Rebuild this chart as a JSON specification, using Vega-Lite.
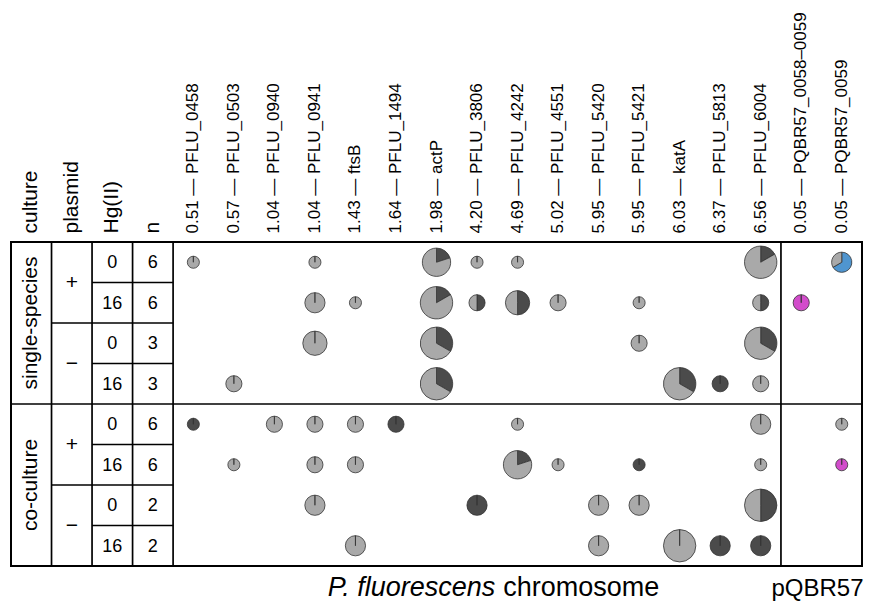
{
  "$schema": "https://vega.github.io/schema/vega-lite/v6.json",
  "width": 851,
  "height": 324,
  "autosize": {"type": "none"},
  "padding": {"left": 11, "top": 242, "right": 15, "bottom": 39},
  "background": "white",
  "config": {"font": "Liberation Sans", "view": {"stroke": "#000", "strokeWidth": 2}},
  "datasets": {
    "vlines": [{"col": "plasmid"}, {"col": "Hg(II)"}, {"col": "n"}, {"col": "0.51 — PFLU_0458"}, {"col": "0.05 — PQBR57_0058–0059"}],
    "hlines": [
      {"row": "cc+0", "c0": "culture", "c1": "0.05 — PQBR57_0059"},
      {"row": "ss-0", "c0": "plasmid", "c1": "n"},
      {"row": "cc-0", "c0": "plasmid", "c1": "n"},
      {"row": "ss+16", "c0": "Hg(II)", "c1": "n"},
      {"row": "ss-16", "c0": "Hg(II)", "c1": "n"},
      {"row": "cc+16", "c0": "Hg(II)", "c1": "n"},
      {"row": "cc-16", "c0": "Hg(II)", "c1": "n"}
    ],
    "cells": [
      {"row": "ss+0", "col": "Hg(II)", "label": "0"}, {"row": "ss+16", "col": "Hg(II)", "label": "16"},
      {"row": "ss-0", "col": "Hg(II)", "label": "0"}, {"row": "ss-16", "col": "Hg(II)", "label": "16"},
      {"row": "cc+0", "col": "Hg(II)", "label": "0"}, {"row": "cc+16", "col": "Hg(II)", "label": "16"},
      {"row": "cc-0", "col": "Hg(II)", "label": "0"}, {"row": "cc-16", "col": "Hg(II)", "label": "16"},
      {"row": "ss+0", "col": "n", "label": "6"}, {"row": "ss+16", "col": "n", "label": "6"},
      {"row": "ss-0", "col": "n", "label": "3"}, {"row": "ss-16", "col": "n", "label": "3"},
      {"row": "cc+0", "col": "n", "label": "6"}, {"row": "cc+16", "col": "n", "label": "6"},
      {"row": "cc-0", "col": "n", "label": "2"}, {"row": "cc-16", "col": "n", "label": "2"}
    ],
    "plasmid": [
      {"row": "ss+0", "col": "plasmid", "label": "+"}, {"row": "ss-0", "col": "plasmid", "label": "−"},
      {"row": "cc+0", "col": "plasmid", "label": "+"}, {"row": "cc-0", "col": "plasmid", "label": "−"}
    ],
    "culture": [
      {"row": "ss+16", "col": "culture", "label": "single-species"},
      {"row": "cc+16", "col": "culture", "label": "co-culture"}
    ],
    "pies": [
      {"row": "ss+0", "gene": "0.51 — PFLU_0458", "p": 0.1667, "type": "gray", "t0": 0, "t1": 1},
      {"row": "ss+0", "gene": "1.04 — PFLU_0941", "p": 0.1667, "type": "gray", "t0": 0, "t1": 1},
      {"row": "ss+0", "gene": "1.98 — actP", "p": 0.8333, "type": "dark", "t0": 0, "t1": 0.2},
      {"row": "ss+0", "gene": "1.98 — actP", "p": 0.8333, "type": "gray", "t0": 0.2, "t1": 1},
      {"row": "ss+0", "gene": "4.20 — PFLU_3806", "p": 0.1667, "type": "gray", "t0": 0, "t1": 1},
      {"row": "ss+0", "gene": "4.69 — PFLU_4242", "p": 0.1667, "type": "gray", "t0": 0, "t1": 1},
      {"row": "ss+0", "gene": "6.56 — PFLU_6004", "p": 1, "type": "dark", "t0": 0, "t1": 0.1667},
      {"row": "ss+0", "gene": "6.56 — PFLU_6004", "p": 1, "type": "gray", "t0": 0.1667, "t1": 1},
      {"row": "ss+0", "gene": "0.05 — PQBR57_0059", "p": 0.5, "type": "blue", "t0": 0, "t1": 0.6667},
      {"row": "ss+0", "gene": "0.05 — PQBR57_0059", "p": 0.5, "type": "gray", "t0": 0.6667, "t1": 1},

      {"row": "ss+16", "gene": "1.04 — PFLU_0941", "p": 0.5, "type": "gray", "t0": 0, "t1": 1},
      {"row": "ss+16", "gene": "1.43 — ftsB", "p": 0.1667, "type": "gray", "t0": 0, "t1": 1},
      {"row": "ss+16", "gene": "1.98 — actP", "p": 1, "type": "dark", "t0": 0, "t1": 0.1667},
      {"row": "ss+16", "gene": "1.98 — actP", "p": 1, "type": "gray", "t0": 0.1667, "t1": 1},
      {"row": "ss+16", "gene": "4.20 — PFLU_3806", "p": 0.3333, "type": "dark", "t0": 0, "t1": 0.5},
      {"row": "ss+16", "gene": "4.20 — PFLU_3806", "p": 0.3333, "type": "gray", "t0": 0.5, "t1": 1},
      {"row": "ss+16", "gene": "4.69 — PFLU_4242", "p": 0.6667, "type": "dark", "t0": 0, "t1": 0.5},
      {"row": "ss+16", "gene": "4.69 — PFLU_4242", "p": 0.6667, "type": "gray", "t0": 0.5, "t1": 1},
      {"row": "ss+16", "gene": "5.02 — PFLU_4551", "p": 0.3333, "type": "gray", "t0": 0, "t1": 1},
      {"row": "ss+16", "gene": "5.95 — PFLU_5421", "p": 0.1667, "type": "gray", "t0": 0, "t1": 1},
      {"row": "ss+16", "gene": "6.56 — PFLU_6004", "p": 0.3333, "type": "dark", "t0": 0, "t1": 0.5},
      {"row": "ss+16", "gene": "6.56 — PFLU_6004", "p": 0.3333, "type": "gray", "t0": 0.5, "t1": 1},
      {"row": "ss+16", "gene": "0.05 — PQBR57_0058–0059", "p": 0.3333, "type": "magenta", "t0": 0, "t1": 1},

      {"row": "ss-0", "gene": "1.04 — PFLU_0941", "p": 0.6667, "type": "gray", "t0": 0, "t1": 1},
      {"row": "ss-0", "gene": "1.98 — actP", "p": 1, "type": "dark", "t0": 0, "t1": 0.3333},
      {"row": "ss-0", "gene": "1.98 — actP", "p": 1, "type": "gray", "t0": 0.3333, "t1": 1},
      {"row": "ss-0", "gene": "5.95 — PFLU_5421", "p": 0.3333, "type": "gray", "t0": 0, "t1": 1},
      {"row": "ss-0", "gene": "6.56 — PFLU_6004", "p": 1, "type": "dark", "t0": 0, "t1": 0.3333},
      {"row": "ss-0", "gene": "6.56 — PFLU_6004", "p": 1, "type": "gray", "t0": 0.3333, "t1": 1},

      {"row": "ss-16", "gene": "0.57 — PFLU_0503", "p": 0.3333, "type": "gray", "t0": 0, "t1": 1},
      {"row": "ss-16", "gene": "1.98 — actP", "p": 1, "type": "dark", "t0": 0, "t1": 0.3333},
      {"row": "ss-16", "gene": "1.98 — actP", "p": 1, "type": "gray", "t0": 0.3333, "t1": 1},
      {"row": "ss-16", "gene": "6.03 — katA", "p": 1, "type": "dark", "t0": 0, "t1": 0.3333},
      {"row": "ss-16", "gene": "6.03 — katA", "p": 1, "type": "gray", "t0": 0.3333, "t1": 1},
      {"row": "ss-16", "gene": "6.37 — PFLU_5813", "p": 0.3333, "type": "dark", "t0": 0, "t1": 1},
      {"row": "ss-16", "gene": "6.56 — PFLU_6004", "p": 0.3333, "type": "gray", "t0": 0, "t1": 1},

      {"row": "cc+0", "gene": "0.51 — PFLU_0458", "p": 0.1667, "type": "dark", "t0": 0, "t1": 1},
      {"row": "cc+0", "gene": "1.04 — PFLU_0940", "p": 0.3333, "type": "gray", "t0": 0, "t1": 1},
      {"row": "cc+0", "gene": "1.04 — PFLU_0941", "p": 0.3333, "type": "gray", "t0": 0, "t1": 1},
      {"row": "cc+0", "gene": "1.43 — ftsB", "p": 0.3333, "type": "gray", "t0": 0, "t1": 1},
      {"row": "cc+0", "gene": "1.64 — PFLU_1494", "p": 0.3333, "type": "dark", "t0": 0, "t1": 1},
      {"row": "cc+0", "gene": "4.69 — PFLU_4242", "p": 0.1667, "type": "gray", "t0": 0, "t1": 1},
      {"row": "cc+0", "gene": "6.56 — PFLU_6004", "p": 0.5, "type": "gray", "t0": 0, "t1": 1},
      {"row": "cc+0", "gene": "0.05 — PQBR57_0059", "p": 0.1667, "type": "gray", "t0": 0, "t1": 1},

      {"row": "cc+16", "gene": "0.57 — PFLU_0503", "p": 0.1667, "type": "gray", "t0": 0, "t1": 1},
      {"row": "cc+16", "gene": "1.04 — PFLU_0941", "p": 0.3333, "type": "gray", "t0": 0, "t1": 1},
      {"row": "cc+16", "gene": "1.43 — ftsB", "p": 0.3333, "type": "gray", "t0": 0, "t1": 1},
      {"row": "cc+16", "gene": "4.69 — PFLU_4242", "p": 0.8333, "type": "dark", "t0": 0, "t1": 0.2},
      {"row": "cc+16", "gene": "4.69 — PFLU_4242", "p": 0.8333, "type": "gray", "t0": 0.2, "t1": 1},
      {"row": "cc+16", "gene": "5.02 — PFLU_4551", "p": 0.1667, "type": "gray", "t0": 0, "t1": 1},
      {"row": "cc+16", "gene": "5.95 — PFLU_5421", "p": 0.1667, "type": "dark", "t0": 0, "t1": 1},
      {"row": "cc+16", "gene": "6.56 — PFLU_6004", "p": 0.1667, "type": "gray", "t0": 0, "t1": 1},
      {"row": "cc+16", "gene": "0.05 — PQBR57_0059", "p": 0.1667, "type": "magenta", "t0": 0, "t1": 1},

      {"row": "cc-0", "gene": "1.04 — PFLU_0941", "p": 0.5, "type": "gray", "t0": 0, "t1": 1},
      {"row": "cc-0", "gene": "4.20 — PFLU_3806", "p": 0.5, "type": "dark", "t0": 0, "t1": 1},
      {"row": "cc-0", "gene": "5.95 — PFLU_5420", "p": 0.5, "type": "gray", "t0": 0, "t1": 1},
      {"row": "cc-0", "gene": "5.95 — PFLU_5421", "p": 0.5, "type": "gray", "t0": 0, "t1": 1},
      {"row": "cc-0", "gene": "6.56 — PFLU_6004", "p": 1, "type": "dark", "t0": 0, "t1": 0.5},
      {"row": "cc-0", "gene": "6.56 — PFLU_6004", "p": 1, "type": "gray", "t0": 0.5, "t1": 1},

      {"row": "cc-16", "gene": "1.43 — ftsB", "p": 0.5, "type": "gray", "t0": 0, "t1": 1},
      {"row": "cc-16", "gene": "5.95 — PFLU_5420", "p": 0.5, "type": "gray", "t0": 0, "t1": 1},
      {"row": "cc-16", "gene": "6.03 — katA", "p": 1, "type": "gray", "t0": 0, "t1": 1},
      {"row": "cc-16", "gene": "6.37 — PFLU_5813", "p": 0.5, "type": "dark", "t0": 0, "t1": 1},
      {"row": "cc-16", "gene": "6.56 — PFLU_6004", "p": 0.5, "type": "dark", "t0": 0, "t1": 1}
    ],
    "bottom1": [{"col": "4.20 — PFLU_3806", "row": "cc-16", "label": "P. fluorescens"}],
    "bottom2": [{"col": "4.20 — PFLU_3806", "row": "cc-16", "label": "chromosome"}],
    "bottom3": [{"col": "0.05 — PQBR57_0058–0059", "row": "cc-16", "label": "pQBR57"}]
  },
  "layer": [
    {
      "data": {"name": "pies"},
      "mark": {"type": "arc", "stroke": "#333333", "strokeWidth": 0.8},
      "encoding": {
        "x": {"field": "gene", "type": "nominal", "scale": {"type": "band", "paddingInner": 0, "paddingOuter": 0, "domain": ["culture","plasmid","Hg(II)","n","0.51 — PFLU_0458","0.57 — PFLU_0503","1.04 — PFLU_0940","1.04 — PFLU_0941","1.43 — ftsB","1.64 — PFLU_1494","1.98 — actP","4.20 — PFLU_3806","4.69 — PFLU_4242","5.02 — PFLU_4551","5.95 — PFLU_5420","5.95 — PFLU_5421","6.03 — katA","6.37 — PFLU_5813","6.56 — PFLU_6004","0.05 — PQBR57_0058–0059","0.05 — PQBR57_0059"]}, "axis": {"orient": "top", "title": null, "domain": false, "ticks": false, "grid": false, "labelAngle": -90, "labelPadding": 9, "labelFont": "Liberation Sans", "labelColor": "#000", "labelLimit": 400, "labelOverlap": false, "labelFontSize": {"condition": {"test": "indexof(['culture','plasmid','Hg(II)','n'], datum.value) >= 0", "value": 21}, "value": 17}}},
        "y": {"field": "row", "type": "nominal", "scale": {"type": "band", "paddingInner": 0, "paddingOuter": 0, "domain": ["ss+0","ss+16","ss-0","ss-16","cc+0","cc+16","cc-0","cc-16"]}, "axis": null},
        "theta": {"field": "t0", "type": "quantitative", "stack": null, "scale": {"domain": [0, 1], "range": [0, 6.283185307]}},
        "theta2": {"field": "t1"},
        "radius": {"field": "p", "type": "quantitative", "scale": {"type": "linear", "zero": false, "domain": [0, 1], "range": [4, 16.2]}},
        "radius2": {"value": 0},
        "color": {"field": "type", "type": "nominal", "legend": null, "scale": {"domain": ["gray", "dark", "blue", "magenta"], "range": ["#a9a9a9", "#4b4b4b", "#4f95cf", "#d24ccb"]}}
      }
    },
    {
      "data": {"name": "vlines"},
      "mark": {"type": "rule", "color": "#000", "strokeWidth": 1.7},
      "encoding": {
        "x": {"field": "col", "type": "nominal", "bandPosition": 0, "scale": {"type": "band", "paddingInner": 0, "paddingOuter": 0, "domain": ["culture","plasmid","Hg(II)","n","0.51 — PFLU_0458","0.57 — PFLU_0503","1.04 — PFLU_0940","1.04 — PFLU_0941","1.43 — ftsB","1.64 — PFLU_1494","1.98 — actP","4.20 — PFLU_3806","4.69 — PFLU_4242","5.02 — PFLU_4551","5.95 — PFLU_5420","5.95 — PFLU_5421","6.03 — katA","6.37 — PFLU_5813","6.56 — PFLU_6004","0.05 — PQBR57_0058–0059","0.05 — PQBR57_0059"]}, "axis": {"orient": "top", "title": null, "domain": false, "ticks": false, "grid": false, "labelAngle": -90, "labelPadding": 9, "labelFont": "Liberation Sans", "labelColor": "#000", "labelLimit": 400, "labelOverlap": false, "labelFontSize": {"condition": {"test": "indexof(['culture','plasmid','Hg(II)','n'], datum.value) >= 0", "value": 21}, "value": 17}}}
      }
    },
    {
      "data": {"name": "hlines"},
      "mark": {"type": "rule", "color": "#000", "strokeWidth": 1.7},
      "encoding": {
        "x": {"field": "c0", "type": "nominal", "bandPosition": 0, "scale": {"type": "band", "paddingInner": 0, "paddingOuter": 0, "domain": ["culture","plasmid","Hg(II)","n","0.51 — PFLU_0458","0.57 — PFLU_0503","1.04 — PFLU_0940","1.04 — PFLU_0941","1.43 — ftsB","1.64 — PFLU_1494","1.98 — actP","4.20 — PFLU_3806","4.69 — PFLU_4242","5.02 — PFLU_4551","5.95 — PFLU_5420","5.95 — PFLU_5421","6.03 — katA","6.37 — PFLU_5813","6.56 — PFLU_6004","0.05 — PQBR57_0058–0059","0.05 — PQBR57_0059"]}, "axis": {"orient": "top", "title": null, "domain": false, "ticks": false, "grid": false, "labelAngle": -90, "labelPadding": 9, "labelFont": "Liberation Sans", "labelColor": "#000", "labelLimit": 400, "labelOverlap": false, "labelFontSize": {"condition": {"test": "indexof(['culture','plasmid','Hg(II)','n'], datum.value) >= 0", "value": 21}, "value": 17}}},
        "x2": {"field": "c1", "bandPosition": 1},
        "y": {"field": "row", "type": "nominal", "bandPosition": 0, "scale": {"type": "band", "paddingInner": 0, "paddingOuter": 0, "domain": ["ss+0","ss+16","ss-0","ss-16","cc+0","cc+16","cc-0","cc-16"]}, "axis": null}
      }
    },
    {
      "data": {"name": "cells"},
      "mark": {"type": "text", "fontSize": 18, "color": "#000", "align": "center", "baseline": "middle", "dy": 1},
      "encoding": {
        "x": {"field": "col", "type": "nominal", "scale": {"type": "band", "paddingInner": 0, "paddingOuter": 0, "domain": ["culture","plasmid","Hg(II)","n","0.51 — PFLU_0458","0.57 — PFLU_0503","1.04 — PFLU_0940","1.04 — PFLU_0941","1.43 — ftsB","1.64 — PFLU_1494","1.98 — actP","4.20 — PFLU_3806","4.69 — PFLU_4242","5.02 — PFLU_4551","5.95 — PFLU_5420","5.95 — PFLU_5421","6.03 — katA","6.37 — PFLU_5813","6.56 — PFLU_6004","0.05 — PQBR57_0058–0059","0.05 — PQBR57_0059"]}, "axis": {"orient": "top", "title": null, "domain": false, "ticks": false, "grid": false, "labelAngle": -90, "labelPadding": 9, "labelFont": "Liberation Sans", "labelColor": "#000", "labelLimit": 400, "labelOverlap": false, "labelFontSize": {"condition": {"test": "indexof(['culture','plasmid','Hg(II)','n'], datum.value) >= 0", "value": 21}, "value": 17}}},
        "y": {"field": "row", "type": "nominal", "scale": {"type": "band", "paddingInner": 0, "paddingOuter": 0, "domain": ["ss+0","ss+16","ss-0","ss-16","cc+0","cc+16","cc-0","cc-16"]}, "axis": null},
        "text": {"field": "label"}
      }
    },
    {
      "data": {"name": "plasmid"},
      "mark": {"type": "text", "fontSize": 21, "color": "#000", "align": "center", "baseline": "middle"},
      "encoding": {
        "x": {"field": "col", "type": "nominal", "scale": {"type": "band", "paddingInner": 0, "paddingOuter": 0, "domain": ["culture","plasmid","Hg(II)","n","0.51 — PFLU_0458","0.57 — PFLU_0503","1.04 — PFLU_0940","1.04 — PFLU_0941","1.43 — ftsB","1.64 — PFLU_1494","1.98 — actP","4.20 — PFLU_3806","4.69 — PFLU_4242","5.02 — PFLU_4551","5.95 — PFLU_5420","5.95 — PFLU_5421","6.03 — katA","6.37 — PFLU_5813","6.56 — PFLU_6004","0.05 — PQBR57_0058–0059","0.05 — PQBR57_0059"]}, "axis": {"orient": "top", "title": null, "domain": false, "ticks": false, "grid": false, "labelAngle": -90, "labelPadding": 9, "labelFont": "Liberation Sans", "labelColor": "#000", "labelLimit": 400, "labelOverlap": false, "labelFontSize": {"condition": {"test": "indexof(['culture','plasmid','Hg(II)','n'], datum.value) >= 0", "value": 21}, "value": 17}}},
        "y": {"field": "row", "type": "nominal", "bandPosition": 1, "scale": {"type": "band", "paddingInner": 0, "paddingOuter": 0, "domain": ["ss+0","ss+16","ss-0","ss-16","cc+0","cc+16","cc-0","cc-16"]}, "axis": null},
        "text": {"field": "label"}
      }
    },
    {
      "data": {"name": "culture"},
      "mark": {"type": "text", "fontSize": 21, "color": "#000", "align": "center", "baseline": "middle", "angle": 270},
      "encoding": {
        "x": {"field": "col", "type": "nominal", "scale": {"type": "band", "paddingInner": 0, "paddingOuter": 0, "domain": ["culture","plasmid","Hg(II)","n","0.51 — PFLU_0458","0.57 — PFLU_0503","1.04 — PFLU_0940","1.04 — PFLU_0941","1.43 — ftsB","1.64 — PFLU_1494","1.98 — actP","4.20 — PFLU_3806","4.69 — PFLU_4242","5.02 — PFLU_4551","5.95 — PFLU_5420","5.95 — PFLU_5421","6.03 — katA","6.37 — PFLU_5813","6.56 — PFLU_6004","0.05 — PQBR57_0058–0059","0.05 — PQBR57_0059"]}, "axis": {"orient": "top", "title": null, "domain": false, "ticks": false, "grid": false, "labelAngle": -90, "labelPadding": 9, "labelFont": "Liberation Sans", "labelColor": "#000", "labelLimit": 400, "labelOverlap": false, "labelFontSize": {"condition": {"test": "indexof(['culture','plasmid','Hg(II)','n'], datum.value) >= 0", "value": 21}, "value": 17}}},
        "y": {"field": "row", "type": "nominal", "bandPosition": 1, "scale": {"type": "band", "paddingInner": 0, "paddingOuter": 0, "domain": ["ss+0","ss+16","ss-0","ss-16","cc+0","cc+16","cc-0","cc-16"]}, "axis": null},
        "text": {"field": "label"}
      }
    },
    {
      "data": {"name": "bottom1"},
      "mark": {"type": "text", "fontSize": 27, "fontStyle": "italic", "color": "#000", "align": "right", "baseline": "alphabetic", "dx": -2, "dy": 30},
      "encoding": {
        "x": {"field": "col", "type": "nominal", "bandPosition": 1, "scale": {"type": "band", "paddingInner": 0, "paddingOuter": 0, "domain": ["culture","plasmid","Hg(II)","n","0.51 — PFLU_0458","0.57 — PFLU_0503","1.04 — PFLU_0940","1.04 — PFLU_0941","1.43 — ftsB","1.64 — PFLU_1494","1.98 — actP","4.20 — PFLU_3806","4.69 — PFLU_4242","5.02 — PFLU_4551","5.95 — PFLU_5420","5.95 — PFLU_5421","6.03 — katA","6.37 — PFLU_5813","6.56 — PFLU_6004","0.05 — PQBR57_0058–0059","0.05 — PQBR57_0059"]}, "axis": {"orient": "top", "title": null, "domain": false, "ticks": false, "grid": false, "labelAngle": -90, "labelPadding": 9, "labelFont": "Liberation Sans", "labelColor": "#000", "labelLimit": 400, "labelOverlap": false, "labelFontSize": {"condition": {"test": "indexof(['culture','plasmid','Hg(II)','n'], datum.value) >= 0", "value": 21}, "value": 17}}},
        "y": {"field": "row", "type": "nominal", "bandPosition": 1, "scale": {"type": "band", "paddingInner": 0, "paddingOuter": 0, "domain": ["ss+0","ss+16","ss-0","ss-16","cc+0","cc+16","cc-0","cc-16"]}, "axis": null},
        "text": {"field": "label"}
      }
    },
    {
      "data": {"name": "bottom2"},
      "mark": {"type": "text", "fontSize": 27, "color": "#000", "align": "left", "baseline": "alphabetic", "dx": 6, "dy": 30},
      "encoding": {
        "x": {"field": "col", "type": "nominal", "bandPosition": 1, "scale": {"type": "band", "paddingInner": 0, "paddingOuter": 0, "domain": ["culture","plasmid","Hg(II)","n","0.51 — PFLU_0458","0.57 — PFLU_0503","1.04 — PFLU_0940","1.04 — PFLU_0941","1.43 — ftsB","1.64 — PFLU_1494","1.98 — actP","4.20 — PFLU_3806","4.69 — PFLU_4242","5.02 — PFLU_4551","5.95 — PFLU_5420","5.95 — PFLU_5421","6.03 — katA","6.37 — PFLU_5813","6.56 — PFLU_6004","0.05 — PQBR57_0058–0059","0.05 — PQBR57_0059"]}, "axis": {"orient": "top", "title": null, "domain": false, "ticks": false, "grid": false, "labelAngle": -90, "labelPadding": 9, "labelFont": "Liberation Sans", "labelColor": "#000", "labelLimit": 400, "labelOverlap": false, "labelFontSize": {"condition": {"test": "indexof(['culture','plasmid','Hg(II)','n'], datum.value) >= 0", "value": 21}, "value": 17}}},
        "y": {"field": "row", "type": "nominal", "bandPosition": 1, "scale": {"type": "band", "paddingInner": 0, "paddingOuter": 0, "domain": ["ss+0","ss+16","ss-0","ss-16","cc+0","cc+16","cc-0","cc-16"]}, "axis": null},
        "text": {"field": "label"}
      }
    },
    {
      "data": {"name": "bottom3"},
      "mark": {"type": "text", "fontSize": 24, "color": "#000", "align": "center", "baseline": "alphabetic", "dx": -4, "dy": 30},
      "encoding": {
        "x": {"field": "col", "type": "nominal", "bandPosition": 1, "scale": {"type": "band", "paddingInner": 0, "paddingOuter": 0, "domain": ["culture","plasmid","Hg(II)","n","0.51 — PFLU_0458","0.57 — PFLU_0503","1.04 — PFLU_0940","1.04 — PFLU_0941","1.43 — ftsB","1.64 — PFLU_1494","1.98 — actP","4.20 — PFLU_3806","4.69 — PFLU_4242","5.02 — PFLU_4551","5.95 — PFLU_5420","5.95 — PFLU_5421","6.03 — katA","6.37 — PFLU_5813","6.56 — PFLU_6004","0.05 — PQBR57_0058–0059","0.05 — PQBR57_0059"]}, "axis": {"orient": "top", "title": null, "domain": false, "ticks": false, "grid": false, "labelAngle": -90, "labelPadding": 9, "labelFont": "Liberation Sans", "labelColor": "#000", "labelLimit": 400, "labelOverlap": false, "labelFontSize": {"condition": {"test": "indexof(['culture','plasmid','Hg(II)','n'], datum.value) >= 0", "value": 21}, "value": 17}}},
        "y": {"field": "row", "type": "nominal", "bandPosition": 1, "scale": {"type": "band", "paddingInner": 0, "paddingOuter": 0, "domain": ["ss+0","ss+16","ss-0","ss-16","cc+0","cc+16","cc-0","cc-16"]}, "axis": null},
        "text": {"field": "label"}
      }
    }
  ]
}
